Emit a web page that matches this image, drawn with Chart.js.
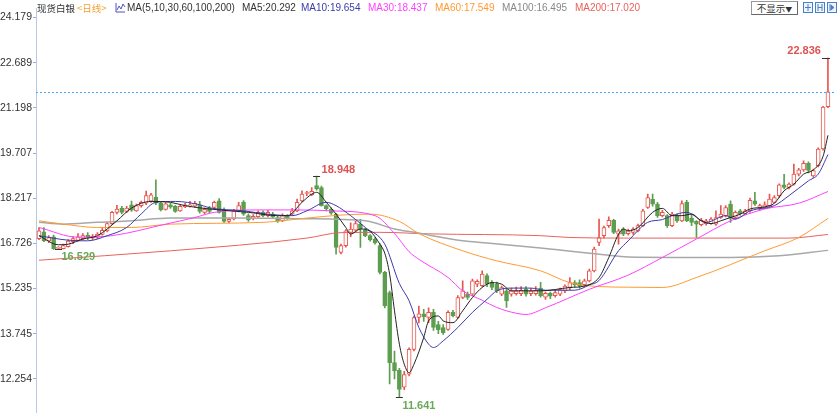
<!DOCTYPE html>
<html>
<head>
<meta charset="utf-8">
<title>现货白银 日线</title>
<script src="https://cdn.jsdelivr.net/npm/chart.js@4.4.1/dist/chart.umd.min.js"></script>
<style>
  html, body { margin: 0; padding: 0; background: #fff; }
  #wrap { position: relative; width: 840px; height: 420px; overflow: hidden; }
  #head { position: absolute; left: 0; top: 0; width: 840px; height: 16px; z-index: 2;
          font: 10px "Liberation Sans", Arial, "Noto Sans CJK SC", sans-serif; white-space: nowrap; }
  #head .t { position: absolute; top: 2px; line-height: 12px; }
  #head .cn { font-family: "Noto Sans CJK SC", sans-serif; font-size: 9.5px; }
  #btn { position: absolute; left: 751px; top: 1px; width: 45px; height: 12px; border: 1px solid #999;
         border-right-color: #666; border-bottom-color: #666; line-height: 12px; text-align: center;
         font-family: "Noto Sans CJK SC", sans-serif; font-size: 9.5px; color: #333; background: #fff; }
  #btn small { font-size: 7px; }
  #icons { position: absolute; left: 803px; top: 2px; }
  #icons svg { margin-right: 2px; }
  #chartBox { position: absolute; left: 0; top: 0; width: 840px; height: 420px; }
</style>
</head>
<body>
<div id="wrap">
  <div id="chartBox"><canvas id="c"></canvas></div>
  <div id="head">
    <span class="t cn" style="left:37px;color:#333">现货白银</span>
    <span class="t cn" style="left:77px;color:#f0a030">&lt;日线&gt;</span>
    <svg style="position:absolute;left:115px;top:2px" width="11" height="11" viewBox="0 0 11 11">
      <path d="M1 1 V10 H10" fill="none" stroke="#5050c8" stroke-width="1"/>
      <path d="M2 8 L4 4 L6 7 L8 2 L10 5" fill="none" stroke="#5050c8" stroke-width="1"/>
    </svg>
    <span class="t" id="maHead" style="left:127px;color:#333"></span>
    <div id="btn">不显示<small>▼</small></div>
    <div id="icons">
      <svg width="10" height="11" viewBox="0 0 10 11"><rect x="0.5" y="0.5" width="9" height="10" fill="#eef4fc" stroke="#4a7fc8"/><path d="M5 2 V9 M2 5.5 H8" stroke="#4a7fc8"/></svg><svg width="10" height="11" viewBox="0 0 10 11"><rect x="0.5" y="0.5" width="9" height="10" fill="#eef4fc" stroke="#4a7fc8"/><path d="M3 2 V9 M7 2 V9 M3 5.5 H7" stroke="#4a7fc8"/></svg><svg width="10" height="11" viewBox="0 0 10 11"><rect x="0.5" y="0.5" width="9" height="10" fill="#eef4fc" stroke="#4a7fc8"/><path d="M3 2 V9 M4 3 L7 5.5 L4 8 Z" stroke="#4a7fc8" fill="#4a7fc8"/></svg>
    </div>
  </div>
</div>
<script>
// y axis tick labels
const yTicks = [24.179, 22.689, 21.198, 19.707, 18.217, 16.726, 15.235, 13.745, 12.254];

// daily candles, oldest first
const open = [
  16.88,17.11,16.81,16.94,16.56,16.55,16.62,16.78,16.82,16.88,
  17.00,16.90,16.92,17.02,17.14,17.38,17.75,17.89,17.78,18.00,
  17.80,17.97,18.05,18.12,18.25,18.05,17.85,18.00,17.95,17.80,
  17.93,17.96,17.95,18.00,17.75,17.88,17.91,18.13,17.82,17.45,
  17.53,17.80,18.08,17.64,17.55,17.61,17.75,17.64,17.69,17.58,
  17.47,17.64,17.69,17.80,18.13,18.37,18.33,18.63,18.57,17.97,
  17.86,17.69,16.43,16.65,17.09,17.16,17.36,17.16,16.98,16.87,
  16.65,15.77,15.10,12.79,12.54,11.98,12.41,13.23,14.28,14.40,
  14.28,14.45,14.05,13.95,13.89,14.45,14.28,14.94,15.05,15.05,
  15.38,15.33,15.66,15.44,15.38,15.05,15.16,15.05,15.07,15.07,
  15.22,15.07,15.07,15.25,14.95,15.08,15.00,15.05,15.16,15.27,
  15.43,15.43,15.36,15.49,15.82,16.76,16.98,17.31,17.49,17.03,
  17.20,17.05,17.09,17.14,17.31,17.91,18.18,18.02,17.64,17.64,
  17.31,17.64,17.47,18.08,17.56,17.45,17.34,17.38,17.38,17.36,
  17.58,17.64,18.02,17.58,17.80,17.71,17.80,18.13,17.86,17.91,
  17.97,18.08,18.30,18.66,18.57,18.68,19.01,19.15,19.37,18.95,
  19.29,19.84,21.24
];
const high = [
  17.25,17.25,16.98,17.00,16.62,16.70,16.85,16.95,17.05,17.05,
  17.08,17.02,17.08,17.22,17.42,17.78,17.98,17.95,17.95,18.12,
  18.02,18.12,18.45,18.38,18.82,18.08,18.08,18.05,17.98,17.98,
  18.05,18.11,18.11,18.11,17.90,17.95,18.12,18.20,17.90,17.56,
  17.85,18.08,18.14,17.70,17.68,17.80,17.80,17.82,17.75,17.62,
  17.70,17.68,17.88,18.19,18.46,18.44,18.57,18.948,18.62,18.00,
  17.90,17.72,16.70,17.18,17.40,17.45,17.52,17.22,17.02,16.92,
  16.72,15.80,15.15,13.17,12.60,12.50,13.28,14.33,14.66,14.55,
  14.60,14.55,14.15,14.05,14.50,14.52,15.00,15.49,15.12,15.55,
  15.52,15.82,15.72,15.50,15.45,15.32,15.22,15.25,15.28,15.30,
  15.30,15.24,15.30,15.44,15.12,15.12,15.18,15.25,15.36,15.60,
  15.50,15.52,15.55,15.88,16.60,17.53,17.30,17.60,17.52,17.20,
  17.25,17.20,17.25,17.36,17.85,18.35,18.35,18.08,17.82,17.68,
  17.75,17.70,18.13,18.15,17.69,17.48,17.55,17.52,17.58,17.80,
  17.97,17.97,18.13,17.80,17.85,17.85,18.22,18.41,18.02,18.10,
  18.35,18.30,18.69,19.00,18.72,19.34,19.20,19.45,19.42,19.18,
  19.88,21.25,22.836
];
const low = [
  16.85,16.78,16.75,16.53,16.529,16.54,16.60,16.72,16.80,16.85,
  16.85,16.85,16.88,17.00,17.10,17.35,17.70,17.70,17.74,17.78,
  17.78,17.92,18.00,18.08,18.00,17.80,17.82,17.88,17.75,17.78,
  17.90,17.92,17.92,17.72,17.70,17.72,17.88,17.72,17.42,17.40,
  17.50,17.76,17.65,17.45,17.50,17.58,17.60,17.60,17.56,17.42,
  17.44,17.52,17.65,17.77,18.10,18.30,18.30,18.48,17.95,17.80,
  17.68,16.37,16.38,16.60,16.95,17.12,16.59,16.95,16.80,16.70,
  15.72,14.60,12.09,12.25,11.641,11.90,12.35,13.18,14.10,14.15,
  14.10,13.85,13.75,13.72,13.85,14.30,14.25,14.90,14.88,15.00,
  15.30,15.30,15.30,15.20,15.10,15.00,14.61,14.98,15.02,15.00,
  14.98,15.00,15.02,14.95,14.88,14.90,14.95,15.00,15.10,15.20,
  15.30,15.25,15.30,15.45,15.78,16.65,16.90,17.25,17.05,16.70,
  16.98,17.00,17.02,17.10,17.28,17.88,17.95,17.58,17.60,17.25,
  17.28,17.42,17.44,17.44,17.31,16.92,17.30,17.33,17.35,17.32,
  17.55,17.60,17.42,17.52,17.66,17.68,17.75,17.98,17.82,17.88,
  17.94,18.05,18.24,18.52,18.52,18.65,18.95,19.10,19.05,18.90,
  19.25,19.80,21.20
];
const close = [
  17.14,16.81,16.92,16.55,16.58,16.65,16.80,16.88,16.94,16.98,
  16.92,16.97,17.03,17.16,17.38,17.75,17.86,17.75,17.89,17.82,
  17.97,18.08,18.30,18.33,18.05,17.83,18.03,17.92,17.78,17.95,
  18.00,18.00,18.05,17.78,17.85,17.78,18.08,17.75,17.45,17.52,
  17.80,17.97,17.69,17.50,17.62,17.75,17.64,17.75,17.60,17.47,
  17.64,17.56,17.80,18.08,18.35,18.40,18.44,18.52,17.97,17.86,
  17.72,16.59,16.65,17.14,17.20,17.38,17.20,16.98,16.84,16.74,
  15.77,14.67,12.79,12.52,11.91,12.40,13.23,14.28,14.40,14.30,
  14.45,13.95,13.88,13.78,14.45,14.34,14.94,15.16,14.94,15.49,
  15.47,15.71,15.38,15.27,15.16,15.27,14.83,15.16,15.16,15.18,
  15.05,15.16,15.18,15.00,15.08,14.98,15.10,15.20,15.32,15.43,
  15.36,15.32,15.49,15.82,16.54,16.92,17.25,17.49,17.09,17.14,
  17.03,17.14,17.20,17.31,17.80,18.24,18.02,17.64,17.75,17.31,
  17.69,17.47,18.04,17.47,17.42,17.36,17.49,17.47,17.53,17.58,
  17.69,17.91,17.56,17.75,17.71,17.80,18.15,18.02,17.97,18.00,
  18.19,18.24,18.66,18.57,18.68,19.01,19.15,19.37,19.13,19.13,
  19.84,21.22,21.73
];

// moving averages: [candle index, value]
const ma5 = [[0,16.98],[4,16.68],[6,16.70],[9,16.87],[12,16.98],[16,17.47],[19,17.89],[23,18.11],[27,18.08],[30,17.97],
  [35,17.86],[43,17.75],[49,17.64],[51,17.64],[54,18.08],[56,18.35],[57,18.41],[59,18.08],[61,17.69],[63,17.25],
  [64,17.03],[66,17.2],[68,17.12],[70,16.7],[71,16.4],[72,15.71],[73,14.5],[74,13.4],[75,12.74],[76,12.46],
  [77,12.74],[79,13.62],[80,14.17],[82,14.33],[83,14.17],[85,14.11],[87,14.5],[89,14.94],[91,15.27],[93,15.43],
  [95,15.38],[97,15.16],[99,15.16],[103,15.16],[109,15.27],[112,15.32],[115,15.6],[117,16.26],[119,17.03],[120,17.2],
  [121,17.14],[123,17.25],[126,17.75],[128,17.88],[130,17.64],[132,17.64],[134,17.69],[136,17.47],[138,17.38],[140,17.47],
  [142,17.58],[144,17.69],[146,17.86],[149,17.93],[151,18.05],[153,18.46],[155,18.68],[157,19.01],[159,19.15],[161,19.6],
  [162,20.292]];
const ma10 = [[0,16.98],[6,16.83],[10,16.81],[14,16.98],[18,17.25],[21,17.7],[24,18.08],[28,18.11],[33,18.0],[35,17.9],
  [42,17.8],[47,17.69],[52,17.64],[55,17.8],[59,18.08],[61,17.97],[64,17.64],[67,17.25],[71,16.7],[74,15.4],
  [76,14.83],[78,13.95],[80,13.4],[81,13.29],[83,13.51],[86,13.95],[89,14.45],[92,14.88],[94,15.16],[97,15.25],
  [101,15.25],[104,15.18],[110,15.18],[113,15.35],[115,15.5],[119,16.48],[121,16.81],[125,17.42],[128,17.51],[130,17.64],
  [133,17.75],[137,17.42],[141,17.64],[143,17.53],[146,17.8],[151,17.97],[154,18.3],[158,18.79],[160,19.01],[162,19.654]];
const ma30 = [[0,17.25],[8,16.93],[15,16.98],[26,17.36],[32,17.58],[36,17.75],[46,17.83],[53,17.83],[60,17.8],[69,17.64],
  [73,17.05],[76,16.45],[78,16.2],[84,15.6],[87,15.16],[91,14.85],[94,14.61],[98,14.42],[100,14.38],[104,14.6],
  [113,15.21],[121,15.68],[128,16.26],[135,16.87],[142,17.47],[149,17.86],[156,18.05],[162,18.437]];
const ma60 = [[0,17.47],[5,17.36],[12,17.25],[19,17.25],[27,17.36],[46,17.42],[55,17.56],[62,17.66],[68,17.69],[74,17.45],
  [78,17.05],[87,16.48],[94,16.15],[103,15.82],[109,15.43],[115,15.3],[121,15.28],[128,15.27],[135,15.6],[149,16.48],
  [156,16.92],[162,17.549]];
const ma100 = [[0,17.42],[5,17.36],[12,17.42],[19,17.47],[27,17.56],[41,17.56],[54,17.54],[67,17.47],[73,17.2],[77,17.09],
  [87,16.81],[92,16.74],[103,16.57],[106,16.52],[116,16.35],[121,16.28],[142,16.26],[152,16.32],[162,16.495]];
const ma200 = [[0,16.17],[27,16.48],[55,16.9],[62,17.08],[70,17.09],[80,17.04],[103,16.98],[109,16.92],[121,16.9],[154,16.9],
  [162,17.02]];

const maPeriods = [5, 10, 30, 60, 100, 200];
const maLast = [20.292, 19.654, 18.437, 17.549, 16.495, 17.020];

// candles carrying the high / low labels
const highMarks = [57, 162];
const lowMarks = [4, 74];

// styling
const UP = '#e6564e';
const DOWN = '#5c9e4e';
const maColors = ['#222222', '#3b3bab', '#ff40ff', '#ff9a30', '#a8a8a8', '#e8625c'];
const maTextColors = ['#333333', '#3b3bab', '#ff40ff', '#ff9a30', '#888888', '#e8625c'];
const maWidths = [1, 1, 1, 1, 1.5, 1];
const maLabelX = [242, 301, 368, 435, 502, 575];

// header legend
const head = document.getElementById('head');
document.getElementById('maHead').textContent = 'MA(' + maPeriods.join(',') + ')';
maPeriods.forEach((p, k) => {
  const s = document.createElement('span');
  s.className = 't';
  s.style.left = maLabelX[k] + 'px';
  s.style.color = maTextColors[k];
  s.textContent = 'MA' + p + ':' + maLast[k].toFixed(3);
  head.appendChild(s);
});

const isUp = i => close[i] >= open[i];
const idx = open.map((_, i) => i);

const lineSets = [ma5, ma10, ma30, ma60, ma100, ma200].map((pts, k) => ({
  type: 'line',
  label: 'MA' + maPeriods[k],
  data: pts.map(p => ({ x: p[0], y: p[1] })),
  borderColor: maColors[k],
  borderWidth: maWidths[k],
  pointRadius: 0,
  cubicInterpolationMode: 'monotone',
  fill: false,
  order: k
}));

const bodies = {
  type: 'bar',
  label: 'body',
  data: idx.map(i => ({ x: i, y: [Math.min(open[i], close[i]), Math.max(open[i], close[i])] })),
  backgroundColor: c => isUp(c.dataIndex) ? '#ffffff' : DOWN,
  borderColor: c => isUp(c.dataIndex) ? UP : DOWN,
  borderWidth: 1,
  borderSkipped: false,
  grouped: false,
  barPercentage: 1,
  categoryPercentage: 1,
  maxBarThickness: 4,
  minBarLength: 1,
  order: 10
};
const wicks = {
  type: 'bar',
  label: 'wick',
  data: idx.map(i => ({ x: i, y: [low[i], high[i]] })),
  backgroundColor: c => isUp(c.dataIndex) ? UP : DOWN,
  borderWidth: 0,
  grouped: false,
  barPercentage: 1,
  categoryPercentage: 1,
  maxBarThickness: 1,
  order: 11
};

const marks = {
  id: 'marks',
  afterDatasetsDraw(chart) {
    const { ctx, chartArea, scales: { x, y } } = chart;
    ctx.save();
    // last price line
    const yp = Math.round(y.getPixelForValue(close[close.length - 1])) + 0.5;
    ctx.strokeStyle = '#4fa6f0';
    ctx.lineWidth = 1;
    ctx.setLineDash([2, 2]);
    ctx.beginPath();
    ctx.moveTo(chartArea.left, yp);
    ctx.lineTo(chartArea.right, yp);
    ctx.stroke();
    ctx.setLineDash([]);

    ctx.font = 'bold 11px "Liberation Sans", Arial, sans-serif';
    ctx.textBaseline = 'middle';
    const tick = (x0, x1, py) => {
      ctx.strokeStyle = '#333';
      ctx.beginPath();
      ctx.moveTo(x0, Math.round(py) + 0.5);
      ctx.lineTo(x1, Math.round(py) + 0.5);
      ctx.stroke();
    };
    highMarks.forEach(i => {
      const px = x.getPixelForValue(i), py = y.getPixelForValue(high[i]);
      const txt = high[i].toFixed(3);
      const w = ctx.measureText(txt).width;
      ctx.fillStyle = '#e05252';
      if (px + 6 + w > chartArea.right) {
        tick(px - 6, px + 2, py);
        ctx.textAlign = 'right';
        ctx.fillText(txt, px - 7, py - 7);
      } else {
        tick(px - 3.5, px + 3.5, py);
        ctx.textAlign = 'left';
        ctx.fillText(txt, px + 5, py - 6);
      }
    });
    lowMarks.forEach(i => {
      const px = x.getPixelForValue(i), py = y.getPixelForValue(low[i]);
      tick(px - 3.5, px + 3.5, py);
      ctx.fillStyle = '#6aa858';
      ctx.textAlign = 'left';
      ctx.fillText(low[i].toFixed(3), px + 3, py + 8);
    });
    ctx.restore();
  }
};

new Chart(document.getElementById('c'), {
  type: 'bar',
  data: { datasets: [...lineSets, bodies, wicks] },
  options: {
    responsive: true,
    maintainAspectRatio: false,
    animation: false,
    events: [],
    layout: { padding: { top: 8, bottom: 7, left: 0, right: 5 } },
    plugins: { legend: { display: false }, tooltip: { enabled: false } },
    scales: {
      x: { type: 'linear', min: -0.616, max: 163.45, offset: false, display: false },
      y: {
        position: 'left',
        min: 11.139,
        max: 24.492,
        afterBuildTicks: s => { s.ticks = yTicks.map(v => ({ value: v })); },
        afterFit: s => { s.width = 36; },
        ticks: {
          callback: v => v.toFixed(3),
          color: '#333',
          padding: 1,
          font: { size: 10.5, family: '"Liberation Sans", Arial, sans-serif' }
        },
        grid: { drawOnChartArea: false, drawTicks: true, tickLength: 3, color: '#8fb2dc' },
        border: { display: true, color: '#b9c9df', dash: [1, 2] }
      }
    }
  },
  plugins: [marks]
});
</script>
</body>
</html>
